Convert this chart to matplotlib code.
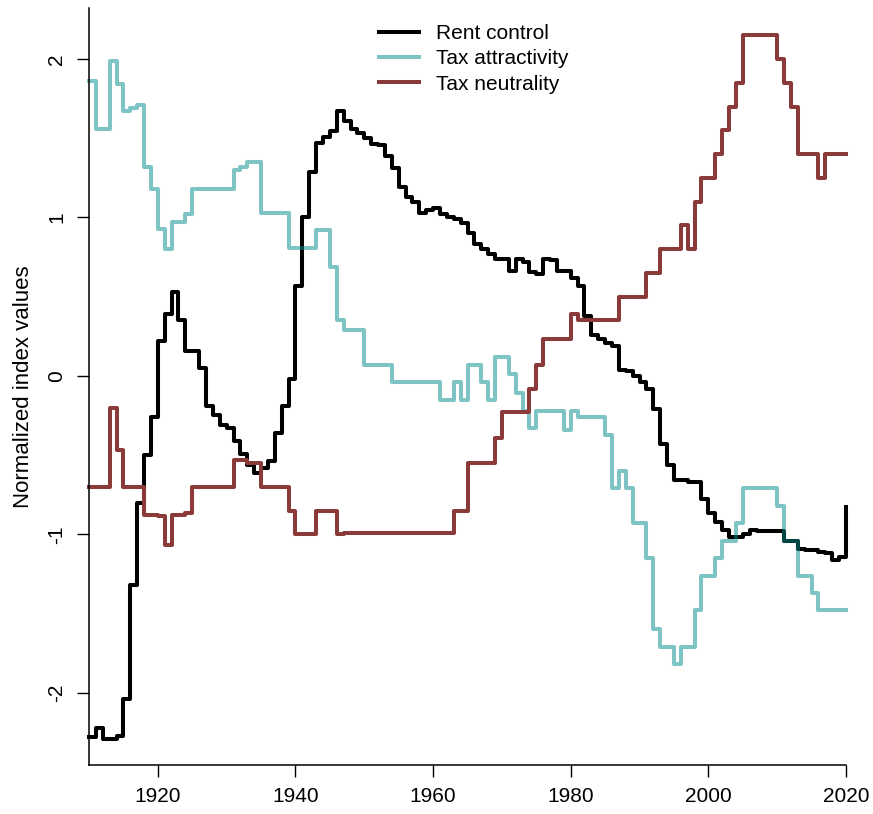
import numpy as np
import matplotlib
matplotlib.use("Agg")
import matplotlib.pyplot as plt

plt.rcParams["font.family"] = ["Liberation Sans", "DejaVu Sans"]

# ── Data (annual, 1910-2020) ────────────────────────────────────────────────
years = np.arange(1910, 2021)

rent_control = [
    -2.28, -2.22, -2.29, -2.29, -2.27, -2.04, -1.32, -0.80, -0.50, -0.26,   # 1910s
    0.22, 0.39, 0.53, 0.35, 0.16, 0.16, 0.05, -0.19, -0.25, -0.31,          # 1920s
    -0.33, -0.41, -0.49, -0.56, -0.61, -0.58, -0.54, -0.36, -0.19, -0.02,   # 1930s
    0.57, 1.00, 1.29, 1.47, 1.51, 1.545, 1.67, 1.61, 1.56, 1.53,            # 1940s
    1.50, 1.465, 1.46, 1.39, 1.31, 1.19, 1.13, 1.095, 1.03, 1.05,           # 1950s
    1.06, 1.02, 1.005, 0.99, 0.965, 0.905, 0.83, 0.80, 0.77, 0.74,          # 1960s
    0.74, 0.665, 0.74, 0.72, 0.655, 0.645, 0.74, 0.73, 0.665, 0.66,         # 1970s
    0.62, 0.57, 0.38, 0.26, 0.23, 0.21, 0.19, 0.04, 0.03, 0.00,             # 1980s
    -0.04, -0.08, -0.21, -0.43, -0.56, -0.66, -0.66, -0.67, -0.67, -0.78,   # 1990s
    -0.865, -0.92, -0.975, -1.02, -1.02, -1.00, -0.97, -0.98, -0.98, -0.98, # 2000s
    -0.98, -1.04, -1.04, -1.09, -1.10, -1.10, -1.11, -1.12, -1.16, -1.14,   # 2010s
    -0.83,                                                                  # 2020
]

tax_attractivity = [
    1.86, 1.56, 1.56, 1.99, 1.84, 1.67, 1.69, 1.71, 1.32, 1.18,
    0.93, 0.80, 0.97, 0.97, 1.02, 1.18, 1.18, 1.18, 1.18, 1.18,
    1.18, 1.30, 1.32, 1.35, 1.35, 1.03, 1.03, 1.03, 1.03, 0.81,
    0.81, 0.81, 0.81, 0.92, 0.92, 0.69, 0.35, 0.29, 0.29, 0.29,
    0.07, 0.07, 0.07, 0.07, -0.04, -0.04, -0.04, -0.04, -0.04, -0.04,
    -0.04, -0.15, -0.15, -0.04, -0.15, 0.07, 0.07, -0.04, -0.15, 0.12,
    0.12, 0.01, -0.11, -0.22, -0.33, -0.22, -0.22, -0.22, -0.22, -0.34,
    -0.22, -0.26, -0.26, -0.26, -0.26, -0.37, -0.71, -0.60, -0.71, -0.93,
    -0.93, -1.15, -1.60, -1.71, -1.71, -1.82, -1.71, -1.71, -1.48, -1.26,
    -1.26, -1.15, -1.04, -1.04, -0.93, -0.71, -0.71, -0.71, -0.71, -0.71,
    -0.82, -1.04, -1.04, -1.26, -1.26, -1.37, -1.48, -1.48, -1.48, -1.48,
    -1.48,
]

tax_neutrality = [
    -0.70, -0.70, -0.70, -0.20, -0.47, -0.70, -0.70, -0.70, -0.875, -0.875,
    -0.885, -1.07, -0.875, -0.875, -0.865, -0.70, -0.70, -0.70, -0.70, -0.70,
    -0.70, -0.53, -0.53, -0.55, -0.55, -0.70, -0.70, -0.70, -0.70, -0.85,
    -1.00, -1.00, -1.00, -0.85, -0.85, -0.85, -1.00, -0.99, -0.99, -0.99,
    -0.99, -0.99, -0.99, -0.99, -0.99, -0.99, -0.99, -0.99, -0.99, -0.99,
    -0.99, -0.99, -0.99, -0.85, -0.85, -0.55, -0.55, -0.55, -0.55, -0.39,
    -0.23, -0.23, -0.23, -0.23, -0.08, 0.07, 0.23, 0.23, 0.23, 0.23,
    0.39, 0.35, 0.35, 0.35, 0.35, 0.35, 0.35, 0.50, 0.50, 0.50,
    0.50, 0.65, 0.65, 0.80, 0.80, 0.80, 0.95, 0.80, 1.10, 1.25,
    1.25, 1.40, 1.55, 1.70, 1.85, 2.15, 2.15, 2.15, 2.15, 2.15,
    2.00, 1.85, 1.70, 1.40, 1.40, 1.40, 1.25, 1.40, 1.40, 1.40,
    1.40,
]

x_ticks = [1920, 1940, 1960, 1980, 2000, 2020]
y_ticks = [-2, -1, 0, 1, 2]

# ── Figure ──────────────────────────────────────────────────────────────────
W, H = 873, 814
fig = plt.figure(figsize=(W / 100, H / 100), dpi=100)
ax = fig.add_axes([89 / W, 1 - 765 / H, (846 - 89) / W, (765 - 8) / H])

lw = 2.9
ax.plot(years, rent_control, drawstyle="steps-post", color="black", lw=lw,
        label="Rent control", clip_on=False)
ax.plot(years, tax_attractivity, drawstyle="steps-post", color="#008B8B",
        alpha=0.5, lw=lw, label="Tax attractivity", clip_on=False)
ax.plot(years, tax_neutrality, drawstyle="steps-post", color="#8B3A3A", lw=lw,
        label="Tax neutrality", clip_on=False)

ax.set_xlim(1910, 2020)
ax.set_ylim(-2.456, 2.322)

for side in ("top", "right"):
    ax.spines[side].set_visible(False)
for side in ("left", "bottom"):
    ax.spines[side].set_linewidth(1.1)

ax.set_xticks(x_ticks)
ax.set_yticks(y_ticks)
ax.set_yticklabels([f"{v}" for v in y_ticks], rotation=90, va="center")
ax.tick_params(axis="both", length=8.6, width=1.0, labelsize=15)
ax.tick_params(axis="x", pad=7)
ax.tick_params(axis="y", pad=8)

ax.set_ylabel("Normalized index values", fontsize=16, labelpad=9)

leg = fig.legend(loc="upper left", bbox_to_anchor=(379 / W, 1 - 24 / H),
                 frameon=False, borderpad=0, borderaxespad=0,
                 handlelength=1.9, handletextpad=0.85, labelspacing=0.3,
                 fontsize=15)
for h in leg.legend_handles:
    h.set_linewidth(lw)

fig.savefig("out.png", dpi=100)
